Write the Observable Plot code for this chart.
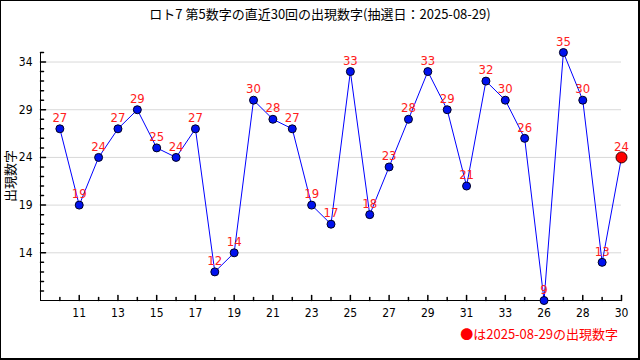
<!DOCTYPE html>
<html>
<head>
<meta charset="utf-8">
<script src="https://cdn.jsdelivr.net/npm/d3@7"></script>
<script src="https://cdn.jsdelivr.net/npm/@observablehq/plot@0.6"></script>
<style>
  body { margin: 0; background: #fff; }
  #wrap { position: relative; width: 640px; height: 360px; overflow: hidden; background: #fff; }
  #wrap svg { position: absolute; left: 0; top: 0; }
  #frame { position: absolute; left: 0; top: 0; width: 640px; height: 360px; box-sizing: border-box;
           border-left: 1px solid #000; border-top: 1px solid #000; border-right: 2px solid #000; border-bottom: 2px solid #000;
           pointer-events: none; }
  #title { position: absolute; left: 0; top: 6px; width: 640px; text-align: center;
           font: 13px/16px "Noto Sans CJK JP", sans-serif; color: #000; }
  #legend { position: absolute; right: 22px; top: 326px;
           font: 13px/16px "Noto Sans CJK JP", sans-serif; color: #ff0000; white-space: nowrap; }
  #ylabel { position: absolute; left: 10px; top: 176px; width: 80px; margin-left: -40px; margin-top: -8px;
           text-align: center; transform: rotate(-90deg);
           font: 13px/16px "Noto Sans CJK JP", sans-serif; color: #000; white-space: nowrap; }
</style>
</head>
<body>
<div id="wrap">
  <div id="title">ロト7 第5数字の直近30回の出現数字(抽選日：2025-08-29)</div>
  <div id="ylabel"></div>
  <div id="legend">●は2025-08-29の出現数字</div>
  <div id="frame"></div>
</div>
<script>
// ---- data ----
const draws = [1,2,3,4,5,6,7,8,9,10,11,12,13,14,15,16,17,18,19,20,21,22,23,24,25,26,27,28,29,30];
const numbers = [27,19,24,27,29,25,24,27,12,14,30,28,27,19,17,33,18,23,28,33,29,21,32,30,26,9,35,30,13,24];
const xTickPositions = [2,4,6,8,10,12,14,16,18,20,22,24,26,28,30];
const xTickLabels = ["11","13","15","17","19","21","23","25","27","29","31","33","26","28","30"];
const xMinorTicks = [1,3,5,7,9,11,13,15,17,19,21,23,25,27,29];
const yMajorTicks = [14,19,24,29,34];
const yMinorTicks = [10,11,12,13,15,16,17,18,20,21,22,23,25,26,27,28,30,31,32,33,35];
const yLabel = "出現数字";

document.getElementById("ylabel").textContent = yLabel;

const data = draws.map((d, i) => ({draw: d, value: numbers[i]}));
const history = data.slice(0, -1);
const latest = data.slice(-1);

const tickShape = { draw(context, l) { context.moveTo(0, 0); context.lineTo(0, -l); } };

const chart = Plot.plot({
  width: 640,
  height: 360,
  marginLeft: 40,
  marginRight: 19,
  marginTop: 52,
  marginBottom: 60,
  style: { fontFamily: "'Liberation Sans Narrow', 'DejaVu Sans Condensed', 'Liberation Sans', sans-serif", fontSize: "11px", background: "transparent" },
  x: { domain: [0, 30], axis: null },
  y: { domain: [9, 35], axis: null },
  marks: [
    Plot.ruleY(yMajorTicks, { stroke: "#d9d9d9" }),
    Plot.ruleX([0], { stroke: "#000" }),
    Plot.ruleY([9], { stroke: "#000" }),
    // x ticks (inward)
    Plot.vector(xTickPositions, { x: d => d, y: () => 9, length: 5, anchor: "start", stroke: "#000", shape: tickShape }),
    Plot.vector(xMinorTicks, { x: d => d, y: () => 9, length: 3, anchor: "start", stroke: "#000", shape: tickShape }),
    // y ticks (inward)
    Plot.vector(yMajorTicks, { x: () => 0, y: d => d, length: 5, rotate: 90, anchor: "start", stroke: "#000", shape: tickShape }),
    Plot.vector(yMinorTicks, { x: () => 0, y: d => d, length: 3, rotate: 90, anchor: "start", stroke: "#000", shape: tickShape }),
    // axis labels
    Plot.axisX(xTickPositions, { anchor: "bottom", label: null, tickSize: 0, tickPadding: 8, fontSize: 12,
      tickFormat: d => xTickLabels[xTickPositions.indexOf(d)] }),
    Plot.axisY(yMajorTicks, { anchor: "left", label: null, tickSize: 0, tickPadding: 8, fontSize: 12, tickFormat: d => String(d) }),
    // series
    Plot.line(data, { x: "draw", y: "value", stroke: "#0000ff", strokeWidth: 1 }),
    Plot.dot(history, { x: "draw", y: "value", r: 4, fill: "#0011ee", stroke: "#000022", strokeWidth: 1 }),
    Plot.dot(latest, { x: "draw", y: "value", r: 5.5, fill: "#ff0000", stroke: "#330000", strokeWidth: 1 }),
    Plot.text(data, { x: "draw", y: "value", text: d => String(d.value), dy: -11, fill: "#ff2020", fontSize: 13 })
  ]
});
document.getElementById("wrap").insertBefore(chart, document.getElementById("title"));
</script>
</body>
</html>
